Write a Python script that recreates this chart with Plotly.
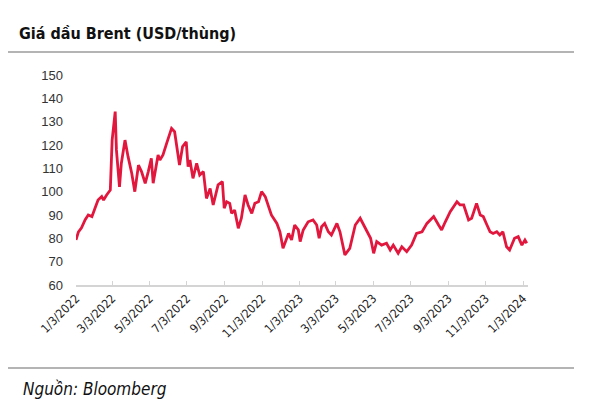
import plotly.graph_objects as go

# Brent price (USD/barrel)
dates = [
    "2022-01-03", "2022-01-07", "2022-01-12", "2022-01-18", "2022-01-23", "2022-01-29", "2022-02-03",
    "2022-02-08", "2022-02-14", "2022-02-17", "2022-02-22", "2022-02-28", "2022-03-03",
    "2022-03-08", "2022-03-10", "2022-03-15", "2022-03-18", "2022-03-24", "2022-03-29",
    "2022-04-04", "2022-04-09", "2022-04-15", "2022-04-20", "2022-04-26", "2022-05-01",
    "2022-05-06", "2022-05-09", "2022-05-17", "2022-05-20", "2022-05-25", "2022-05-31",
    "2022-06-08", "2022-06-13", "2022-06-18", "2022-06-21", "2022-06-26", "2022-07-02",
    "2022-07-05", "2022-07-08", "2022-07-13", "2022-07-19", "2022-07-24", "2022-07-30",
    "2022-08-04", "2022-08-10", "2022-08-15", "2022-08-23", "2022-08-30", "2022-09-02",
    "2022-09-06", "2022-09-11", "2022-09-14", "2022-09-19", "2022-09-25", "2022-09-30",
    "2022-10-06", "2022-10-11", "2022-10-17", "2022-10-22", "2022-10-28", "2022-11-02",
    "2022-11-08", "2022-11-13", "2022-11-18", "2022-11-27", "2022-12-02", "2022-12-07",
    "2022-12-16", "2022-12-21", "2022-12-26", "2023-01-01", "2023-01-04", "2023-01-09",
    "2023-01-17", "2023-01-25", "2023-01-31", "2023-02-04", "2023-02-08", "2023-02-13",
    "2023-02-19", "2023-02-24", "2023-03-05", "2023-03-10", "2023-03-15", "2023-03-18",
    "2023-03-26", "2023-04-04", "2023-04-12", "2023-04-18", "2023-04-23", "2023-04-29",
    "2023-05-04", "2023-05-09", "2023-05-17", "2023-05-25", "2023-05-31", "2023-06-05",
    "2023-06-13", "2023-06-19", "2023-06-27", "2023-07-05", "2023-07-13", "2023-07-22",
    "2023-07-30", "2023-08-10", "2023-08-18", "2023-08-23", "2023-08-29", "2023-09-06",
    "2023-09-17", "2023-09-22", "2023-09-28", "2023-10-06", "2023-10-11", "2023-10-19",
    "2023-10-25", "2023-10-30", "2023-11-05", "2023-11-10", "2023-11-15", "2023-11-21",
    "2023-11-26", "2023-12-01", "2023-12-07", "2023-12-12", "2023-12-20", "2023-12-26",
    "2024-01-01", "2024-01-06", "2024-01-09",
]
prices = [
    79.3, 82.8, 84.5, 88.0, 90.0, 89.3, 92.9,
    96.4, 97.9, 96.4, 98.6, 100.7, 122.1,
    134.3, 117.9, 102.1, 112.1, 122.1, 115.0,
    107.9, 100.0, 111.4, 108.6, 103.6, 108.6,
    114.3, 103.6, 115.7, 113.6, 115.7, 120.7,
    127.1, 125.7, 117.9, 111.4, 119.3, 121.4,
    110.7, 113.6, 105.7, 112.1, 107.1, 108.6,
    97.1, 101.4, 94.3, 102.9, 104.3, 92.9,
    95.7, 95.0, 90.7, 92.1, 84.3, 88.6,
    98.6, 94.3, 90.7, 95.0, 95.7, 100.0,
    97.9, 94.3, 90.0, 86.4, 82.8, 75.7,
    82.1, 79.3, 85.7, 83.6, 78.6, 83.6,
    87.1, 87.9, 85.7, 80.0, 85.0, 86.4,
    82.8, 81.4, 86.4, 82.8, 76.4, 72.9,
    75.7, 85.7, 88.6, 85.7, 82.8, 80.0,
    73.6, 78.6, 77.1, 77.9, 75.0, 77.1,
    73.6, 76.4, 74.3, 77.1, 82.1, 82.8,
    86.4, 89.3, 85.7, 83.6, 87.1, 91.4,
    95.7, 94.3, 94.3, 87.9, 88.6, 95.0,
    90.0, 89.3, 85.7, 82.8, 82.1, 82.8,
    81.4, 82.8, 76.4, 75.0, 80.0, 80.7,
    77.1, 79.3, 77.9,
]

tick_dates = ["2022-01-03", "2022-03-03", "2022-05-03", "2022-07-03", "2022-09-03",
              "2022-11-03", "2023-01-03", "2023-03-03", "2023-05-03", "2023-07-03",
              "2023-09-03", "2023-11-03", "2024-01-03"]
tick_labels = ["1/3/2022", "3/3/2022", "5/3/2022", "7/3/2022", "9/3/2022", "11/3/2022",
               "1/3/2023", "3/3/2023", "5/3/2023", "7/3/2023", "9/3/2023", "11/3/2023",
               "1/3/2024"]
y_ticks = [60, 70, 80, 90, 100, 110, 120, 130, 140, 150]

title_text = "Giá dầu Brent (USD/thùng)"
source_text = "Nguồn: Bloomberg"

# page has an 8px body margin: figure is drawn offset by 8px
OFF = 8
W, H = 600 - OFF, 409 - OFF
L, R, T, B = 76 - OFF, 72, 75 - OFF, 124
PW, PH = W - L - R, H - T - B


def px(x):
    return (x - OFF - L) / PW


def py(y):
    return (H - B - (y - OFF)) / PH


NARROW = "DejaVu Sans Condensed, Liberation Sans Narrow, Roboto, sans-serif"

fig = go.Figure()
fig.add_trace(go.Scatter(
    x=dates, y=prices, mode="lines",
    line=dict(color="#E2173D", width=2.8),
    hoverinfo="x+y", showlegend=False,
))

fig.update_layout(
    width=W, height=H,
    margin=dict(l=L, r=R, t=T, b=B),
    paper_bgcolor="white", plot_bgcolor="white",
    font=dict(family=NARROW, color="#333333"),
    xaxis=dict(
        type="date",
        range=["2022-01-03", "2024-01-11"],
        tickmode="array", tickvals=tick_dates, ticktext=tick_labels,
        tickangle=-45,
        tickfont=dict(family=NARROW, size=12, color="#222222"),
        showgrid=False, zeroline=False,
        showline=True, linecolor="#d4d4d4", linewidth=1.5,
        ticks="inside", ticklen=4, tickcolor="#d4d4d4", tickwidth=1.2,
    ),
    yaxis=dict(
        range=[60, 150],
        tickmode="array", tickvals=y_ticks,
        tickfont=dict(family="Liberation Sans, Arial, sans-serif", size=13, color="#333333"),
        showgrid=False, zeroline=False, showline=False,
        ticks="", ticklabelstandoff=12,
    ),
    shapes=[
        dict(type="line", xref="paper", yref="paper",
             x0=px(8), x1=px(574), y0=py(52), y1=py(52),
             line=dict(color="#b4b4b4", width=2)),
        dict(type="line", xref="paper", yref="paper",
             x0=px(8), x1=px(574), y0=py(368), y1=py(368),
             line=dict(color="#b4b4b4", width=2)),
    ],
    annotations=[
        dict(text="<b>" + title_text + "</b>", xref="paper", yref="paper",
             x=px(17), y=py(33), xanchor="left", yanchor="middle", showarrow=False,
             font=dict(family=NARROW, size=16, color="#111111")),
        dict(text="<i>" + source_text + "</i>", xref="paper", yref="paper",
             x=px(21), y=py(389), xanchor="left", yanchor="middle", showarrow=False,
             font=dict(family=NARROW, size=17, color="#111111")),
    ],
)

fig.write_html("out.html")
